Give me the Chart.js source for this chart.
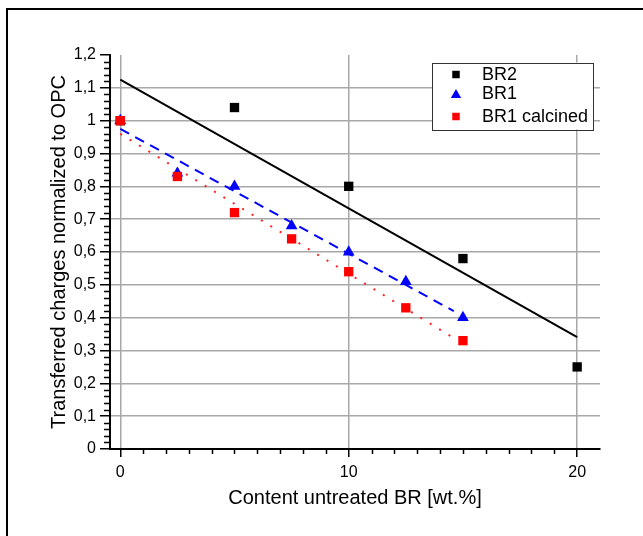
<!DOCTYPE html>
<html>
<head>
<meta charset="utf-8">
<script src="https://cdn.jsdelivr.net/npm/chart.js@4.4.1/dist/chart.umd.min.js"></script>
<style>
  html, body { margin: 0; padding: 0; background: #fff; overflow: hidden; }
  #wrap { position: relative; width: 643px; height: 536px; }
  #frame { position: absolute; left: 6px; top: 8px; width: 660px; height: 560px; border: 2px solid #000; box-sizing: border-box; }
  #chart { position: absolute; left: 0; top: 0; }
</style>
</head>
<body>
<div id="wrap">
  <div id="frame"></div>
  <canvas id="chart" width="643" height="536"></canvas>
</div>
<script>
// ---- data ----
const seriesNames = ['BR2', 'BR1', 'BR1 calcined'];

const br2X = [0, 5, 10, 15, 20];
const br2Y = [1.0, 1.04, 0.80, 0.58, 0.25];

const br1X = [0, 2.5, 5, 7.5, 10, 12.5, 15];
const br1Y = [1.0, 0.84, 0.80, 0.68, 0.60, 0.51, 0.40];

const calcX = [0, 2.5, 5, 7.5, 10, 12.5, 15];
const calcY = [1.0, 0.83, 0.72, 0.64, 0.54, 0.43, 0.33];

// linear fits (end points as drawn)
const br2FitX = [0, 20];
const br2FitY = [1.125, 0.341];
const br1FitX = [0, 14.6];
const br1FitY = [0.975, 0.42];
const calcFitX = [0, 14.5];
const calcFitY = [0.96, 0.342];

// axes
const xTicks = [0, 10, 20];
const yTicks = [0, 0.1, 0.2, 0.3, 0.4, 0.5, 0.6, 0.7, 0.8, 0.9, 1.0, 1.1, 1.2];
const xMinorStep = 1;
const yMinorStep = 0.02;

const FONT = "'Liberation Sans', Arial, sans-serif";
const GRID = '#a8a8a8';

const toPts = (xs, ys) => xs.map((x, i) => ({ x: x, y: ys[i] }));
const fmtY = v => String(Number(v.toFixed(1))).replace('.', ',');

const minorTicks = {
    id: 'minorTicks',
    afterDraw(chart) {
        const { ctx, scales: { x, y } } = chart;
        ctx.save();
        ctx.strokeStyle = '#000';
        ctx.lineWidth = 1.5;
        ctx.beginPath();
        for (let v = xMinorStep; v < x.max; v += xMinorStep) {
            if (xTicks.includes(v)) continue;
            const px = Math.round(x.getPixelForValue(v)) + 0.5;
            ctx.moveTo(px, x.top);
            ctx.lineTo(px, x.top + 5);
        }
        for (let i = 1; i * yMinorStep < y.max - 1e-9; i++) {
            const v = i * yMinorStep;
            if (i % 5 === 0) continue;
            const py = Math.round(y.getPixelForValue(v)) + 0.5;
            ctx.moveTo(y.right, py);
            ctx.lineTo(y.right - 6, py);
        }
        ctx.stroke();
        ctx.restore();
    }
};

const boxLegend = {
    id: 'boxLegend',
    afterDraw(chart) {
        const { ctx, chartArea } = chart;
        const right = chartArea.right - 7, top = chartArea.top + 7.5;
        const w = 161, h = 67;
        const left = right - w;
        ctx.save();
        ctx.fillStyle = '#fff';
        ctx.fillRect(left, top, w, h);
        ctx.strokeStyle = '#333';
        ctx.lineWidth = 1;
        ctx.strokeRect(Math.round(left) + 0.5, Math.round(top) + 0.5, w, h);
        const rows = [12, 31, 54];
        const styles = [
            { pointStyle: 'rect', radius: 5.3, color: '#000' },
            { pointStyle: 'triangle', radius: 6, color: '#0000ff' },
            { pointStyle: 'rect', radius: 5.3, color: '#ff0000' }
        ];
        ctx.font = '18px ' + FONT;
        ctx.textBaseline = 'middle';
        seriesNames.forEach((name, i) => {
            const cy = top + rows[i];
            const s = styles[i];
            ctx.fillStyle = s.color;
            ctx.strokeStyle = s.color;
            Chart.helpers.drawPoint(ctx, { pointStyle: s.pointStyle, radius: s.radius, rotation: 0, borderWidth: 0 }, left + 24, cy + (s.pointStyle === 'triangle' ? 1.5 : 0));
            ctx.fillStyle = '#000';
            ctx.fillText(name, left + 50, cy + 1);
        });
        ctx.restore();
    }
};

new Chart(document.getElementById('chart'), {
    type: 'scatter',
    data: {
        datasets: [
            { label: 'BR1 calcined', data: toPts(calcX, calcY), order: 0, pointStyle: 'rect', pointRadius: 6.6, backgroundColor: '#ff0000', borderColor: '#ff0000', borderWidth: 0, showLine: false },
            { label: 'BR1', data: toPts(br1X, br1Y), order: 1, pointStyle: 'triangle', pointRadius: 6.8, backgroundColor: '#0000ff', borderColor: '#0000ff', borderWidth: 0, showLine: false },
            { label: 'BR2', data: toPts(br2X, br2Y), order: 2, pointStyle: 'rect', pointRadius: 6.6, backgroundColor: '#000', borderColor: '#000', borderWidth: 0, showLine: false },
            { label: 'BR1 calcined fit', data: toPts(calcFitX, calcFitY), order: 3, showLine: true, pointRadius: 0, borderColor: '#ff2020', borderWidth: 2, borderDash: [2, 9] },
            { label: 'BR1 fit', data: toPts(br1FitX, br1FitY), order: 4, showLine: true, pointRadius: 0, borderColor: '#0000ff', borderWidth: 2, borderDash: [10, 7] },
            { label: 'BR2 fit', data: toPts(br2FitX, br2FitY), order: 5, showLine: true, pointRadius: 0, borderColor: '#000', borderWidth: 2 }
        ]
    },
    options: {
        responsive: false,
        animation: false,
        devicePixelRatio: 1,
        layout: { padding: { left: 0, top: 55, right: 43, bottom: 0 } },
        plugins: { legend: { display: false }, tooltip: { enabled: false } },
        scales: {
            x: {
                type: 'linear', min: -0.45, max: 21,
                afterBuildTicks: s => { s.ticks = xTicks.map(v => ({ value: v })); },
                afterFit: s => { s.height = 87; },
                ticks: { font: { family: FONT, size: 16 }, color: '#000', padding: 6, includeBounds: false, maxRotation: 0 },
                grid: { color: GRID, lineWidth: 1.5, drawTicks: true, tickLength: 8, tickColor: '#000', tickWidth: 1.5 },
                border: { display: true, color: '#000', width: 2 },
                title: { display: true, text: 'Content untreated BR [wt.%]', color: '#000', font: { family: FONT, size: 20 }, padding: { top: 0, bottom: 26 } }
            },
            y: {
                type: 'linear', min: 0, max: 1.2,
                afterBuildTicks: s => { s.ticks = yTicks.map(v => ({ value: v })); },
                afterFit: s => { s.width = 110; },
                ticks: { font: { family: FONT, size: 16 }, color: '#000', padding: 4, callback: v => fmtY(v) },
                grid: {
                    color: c => (c.tick && (c.tick.value === 0 || Math.abs(c.tick.value - 1.2) < 1e-9)) ? 'rgba(0,0,0,0)' : GRID,
                    lineWidth: 1.5, drawTicks: true, tickLength: 10, tickColor: '#000', tickWidth: 1.5
                },
                border: { display: true, color: '#000', width: 2 },
                title: { display: true, text: 'Transferred charges normalized to OPC', color: '#000', font: { family: FONT, size: 20 }, padding: { top: 47, bottom: 0 } }
            }
        }
    },
    plugins: [minorTicks, boxLegend]
});
</script>
</body>
</html>
